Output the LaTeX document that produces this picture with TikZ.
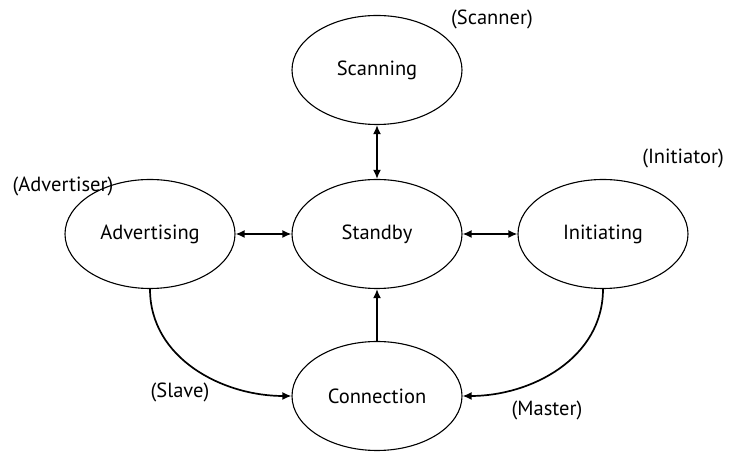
\documentclass[tikz,border=0pt]{standalone}
\usepackage{fontspec}
\setmainfont{PT Sans}
\usetikzlibrary{shapes.geometric,arrows.meta}
\tikzset{
    state/.style={draw, ellipse, line width=1.1pt, minimum width=170pt, minimum height=109pt, font=\fontsize{20.5}{24}\selectfont},
    role/.style={font=\fontsize{20.5}{24}\selectfont},
    link/.style={line width=1.7pt, -{Latex[length=9pt,width=8pt]}},
    both/.style={line width=1.7pt, {Latex[length=9pt,width=8pt]}-{Latex[length=9pt,width=8pt]}}
}
\begin{document}
\begin{tikzpicture}[x=1pt, y=1pt]
    \useasboundingbox (0, 0) rectangle (729, 452);
    \node [state] (scan) at (377, 382) {Scanning};
    \node [state] (stby) at (377, 218) {Standby};
    \node [state] (adv) at (150, 218) {Advertising};
    \node [state] (init) at (603, 218) {Initiating};
    \node [state] (conn) at (377, 56) {Connection};

    \node [role] (scanner) at (492, 433) {(Scanner)};
    \node [role] (advertiser) at (63, 266) {(Advertiser)};
    \node [role] (initiator) at (683, 294) {(Initiator)};
    \node [role] (slave) at (180, 60) {(Slave)};
    \node [role] (master) at (547, 42) {(Master)};

    \draw [both] (scan) -- (stby);
    \draw [both] (adv) -- (stby);
    \draw [both] (stby) -- (init);
    \draw [link] (conn) -- (stby);
    \draw [link] (adv.south) to [out=-90, in=180] (conn.west);
    \draw [link] (init.south) to [out=-90, in=0] (conn.east);
\end{tikzpicture}
\end{document}
